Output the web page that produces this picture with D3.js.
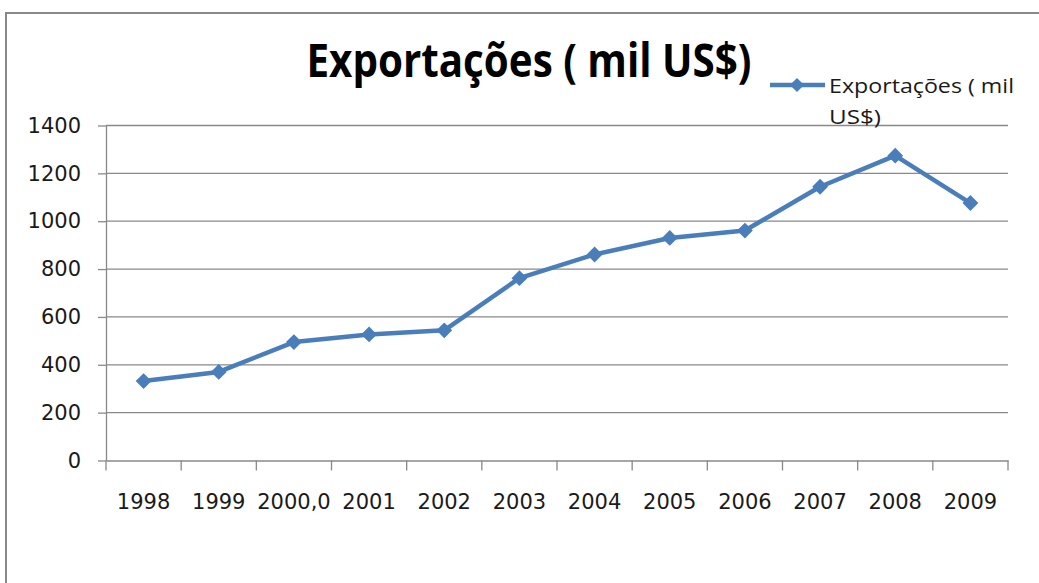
<!DOCTYPE html>
<html>
<head>
<meta charset="utf-8">
<script src="https://cdn.jsdelivr.net/npm/d3@7"></script>
<style>
  html, body { margin: 0; padding: 0; background: #fff; }
  svg { display: block; }
</style>
</head>
<body>
<svg id="chart"></svg>
<script>
// dados
const anos = ["1998", "1999", "2000,0", "2001", "2002", "2003", "2004", "2005", "2006", "2007", "2008", "2009"];
const exportacoes = [332, 370, 495, 527, 544, 762, 861, 930, 961, 1144, 1274, 1076];
const yTicks = [0, 200, 400, 600, 800, 1000, 1200, 1400];
const titulo = "Exportações ( mil US$)";
const legendaLinhas = ["Exportações ( mil", "US$)"];

const W = 1039, H = 583;
const margin = { left: 106, right: 31, top: 125.5, bottom: 122.5 };
const azul = "#4A7EBB";
const cinza = "#898989";

const svg = d3.select("#chart").attr("width", W).attr("height", H)
  .style("font-family", "'DejaVu Sans', sans-serif");

// moldura
svg.append("rect")
  .attr("x", 6).attr("y", 13)
  .attr("width", W + 20).attr("height", H + 20)
  .attr("fill", "none").attr("stroke", cinza).attr("stroke-width", 2);

const x = d3.scaleBand()
  .domain(anos)
  .range([margin.left, W - margin.right]);

const y = d3.scaleLinear()
  .domain([0, 1400])
  .range([H - margin.bottom, margin.top]);

// grelha
svg.append("g")
  .selectAll("line")
  .data(yTicks.filter(d => d > 0))
  .join("line")
  .attr("x1", margin.left).attr("x2", W - margin.right)
  .attr("y1", d => y(d)).attr("y2", d => y(d))
  .attr("stroke", cinza).attr("stroke-width", 1.3);

// eixo y
const yAxis = svg.append("g")
  .attr("transform", `translate(${margin.left},0)`)
  .call(d3.axisLeft(y).tickValues(yTicks).tickFormat(d3.format("d"))
    .tickSize(8).tickPadding(17).tickSizeOuter(0));
yAxis.select(".domain").attr("stroke", cinza).attr("stroke-width", 1.3);
yAxis.selectAll(".tick line").attr("stroke", cinza).attr("stroke-width", 1.3);
yAxis.selectAll("text")
  .attr("fill", "#1a1a1a")
  .style("font-size", "21px")
  .style("font-family", "'DejaVu Sans', sans-serif");

// eixo x
const xAxis = svg.append("g")
  .attr("transform", `translate(0,${y(0)})`)
  .call(d3.axisBottom(x).tickSize(0).tickPadding(34).tickSizeOuter(0));
xAxis.select(".domain").attr("stroke", cinza).attr("stroke-width", 1.3);
xAxis.selectAll("text")
  .attr("fill", "#1a1a1a")
  .style("font-size", "21px")
  .style("font-family", "'DejaVu Sans', sans-serif");

// marcas de divisão entre categorias
const bordas = anos.map(d => x(d)).concat([x(anos[anos.length - 1]) + x.bandwidth()]);
svg.append("g")
  .selectAll("line")
  .data(bordas)
  .join("line")
  .attr("x1", d => d).attr("x2", d => d)
  .attr("y1", y(0)).attr("y2", y(0) + 10)
  .attr("stroke", cinza).attr("stroke-width", 1.3);

// linha
const linha = d3.line()
  .x((d, i) => x(anos[i]) + x.bandwidth() / 2)
  .y(d => y(d));

svg.append("path")
  .datum(exportacoes)
  .attr("d", linha)
  .attr("fill", "none")
  .attr("stroke", azul)
  .attr("stroke-width", 4.5)
  .attr("stroke-linejoin", "round");

// marcadores em losango
svg.append("g")
  .selectAll("path")
  .data(exportacoes)
  .join("path")
  .attr("transform", (d, i) => `translate(${x(anos[i]) + x.bandwidth() / 2},${y(d)}) rotate(45)`)
  .attr("d", d3.symbol().type(d3.symbolSquare).size(125))
  .attr("fill", azul);

// título
svg.append("text")
  .attr("x", 529).attr("y", 77)
  .attr("text-anchor", "middle")
  .attr("textLength", 445)
  .attr("lengthAdjust", "spacingAndGlyphs")
  .style("font-family", "'Open Sans', sans-serif")
  .style("font-weight", "bold")
  .style("font-size", "46px")
  .attr("fill", "#000")
  .text(titulo);

// legenda
const leg = svg.append("g");
leg.append("line")
  .attr("x1", 770).attr("x2", 825).attr("y1", 85).attr("y2", 85)
  .attr("stroke", azul).attr("stroke-width", 4.5);
leg.append("path")
  .attr("transform", "translate(797,85) rotate(45)")
  .attr("d", d3.symbol().type(d3.symbolSquare).size(100))
  .attr("fill", azul);
leg.selectAll("text")
  .data(legendaLinhas)
  .join("text")
  .attr("x", 829)
  .attr("y", (d, i) => 93 + i * 31)
  .attr("textLength", (d, i) => i === 0 ? 185 : 52)
  .attr("lengthAdjust", "spacingAndGlyphs")
  .style("font-family", "'Open Sans', sans-serif")
  .style("font-size", "20px")
  .attr("fill", "#1a1a1a")
  .text(d => d);
</script>
</body>
</html>
